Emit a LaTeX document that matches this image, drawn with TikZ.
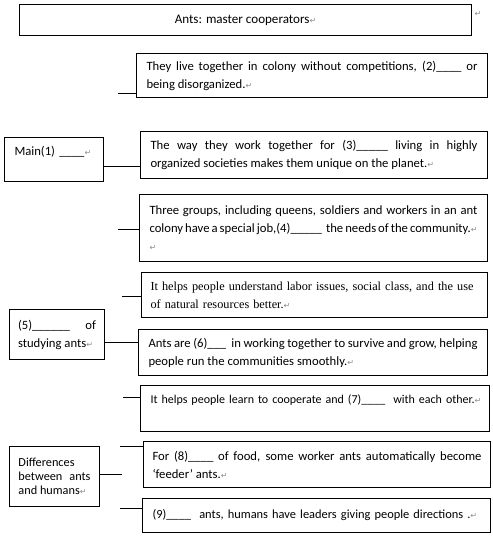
\documentclass[tikz,border=0pt]{standalone}
\usepackage{fontspec}
\setmainfont{Carlito}
\newfontfamily\serifb{Liberation Serif}
\newfontfamily\dejavu{DejaVu Sans}
\hyphenpenalty=10000 \exhyphenpenalty=10000 \tolerance=10000
\newcommand\ret{{\dejavu\fontsize{6}{6}\selectfont\textcolor{black!45}{↵}}}
\newcommand\pxl[1]{#1*0.75pt}
\begin{document}
\begin{tikzpicture}[x=0.75pt,y=-0.75pt,
  box/.style={draw, line width=0.75pt, anchor=north west, inner sep=0pt,
    font=\fontsize{9.5}{13.5}\selectfont, align=justify},
  conn/.style={line width=0.75pt}]
\useasboundingbox (0,0) rectangle (493,536);
% boxes
\node[box, minimum width=\pxl{452}, minimum height=\pxl{31}, align=center, font=\fontsize{9.8}{13.5}\selectfont] (title) at (19,4) {Ants: master cooperators\ret};
\node[anchor=center, inner sep=0pt] (r0) at (478,14) {\ret};
\node[box, minimum width=\pxl{351}, minimum height=\pxl{44}, text width=\pxl{331}] (b2) at (136,53)
  {They live together in colony without competitions, (2)\_\_\_\_ or\linebreak being disorganized.\ret};
\node[box, minimum width=\pxl{99}, minimum height=\pxl{44}, text width=\pxl{79}, align=left] (main) at (4,137)
  {\mbox{Main(1) \_\_\_\_\ret}\\\mbox{}};
\node[box, minimum width=\pxl{347}, minimum height=\pxl{47}, text width=\pxl{327}] (b3) at (140,131)
  {The way they work together for (3)\_\_\_\_\_ living in highly\linebreak organized societies makes them unique on the planet.\ret};
\node[box, minimum width=\pxl{348}, minimum height=\pxl{67}, text width=\pxl{328}] (b4) at (139,194)
  {Three groups, including queens, soldiers and workers in an ant\linebreak colony have a special job,(4)\_\_\_\_\_\ \ the needs of the community.\ret\\\ret};
\node[box, minimum width=\pxl{346}, minimum height=\pxl{45}, text width=\pxl{328}, align=left,
  font=\serifb\fontsize{9.2}{13.5}\selectfont] (b5) at (141,272)
  {It helps people understand labor issues, social class, and the use\\of natural resources better.\ret};
\node[box, minimum width=\pxl{95}, minimum height=\pxl{50}, text width=\pxl{78}] (five) at (9,309)
  {(5)\_\_\_\_\_\_ of\linebreak \mbox{studying ants\ret}};
\node[box, minimum width=\pxl{349}, minimum height=\pxl{46}, text width=\pxl{329}] (b6) at (138,329)
  {Ants are (6)\_\_\_\ \ in working together to survive and grow, helping\linebreak people run the communities smoothly.\ret};
\node[box, minimum width=\pxl{349}, minimum height=\pxl{46}, text width=\pxl{329}, align=left,
  font=\fontsize{9}{13.5}\selectfont] (b7) at (140,385)
  {\mbox{It helps people learn to cooperate and (7)\_\_\_\_\ \ with each other.\ret}\\\mbox{}};
\node[box, minimum width=\pxl{347}, minimum height=\pxl{46}, text width=\pxl{329}] (b8) at (143,441)
  {For (8)\_\_\_\_ of food, some worker ants automatically become\linebreak ‘feeder’ ants.\ret};
\node[box, minimum width=\pxl{90}, minimum height=\pxl{60}, text width=\pxl{72},
  font=\fontsize{9.2}{10.5}\selectfont] (diff) at (9,446)
  {Differences\\between ants\linebreak \mbox{and humans\ret}};
\node[box, minimum width=\pxl{348}, minimum height=\pxl{34}, text width=\pxl{328}, align=left,
  font=\fontsize{9.3}{13.5}\selectfont] (b9) at (142,498)
  {\mbox{(9)\_\_\_\_\ \ ants, humans have leaders giving people directions .\ret}};
% connectors
\coordinate (s2) at (118,93);
\draw[conn] (s2) -- (s2 -| b2.west);
\coordinate (m3) at (120,166);
\draw[conn] (m3 -| main.east) -- (m3 -| b3.west);
\coordinate (s4) at (118,229);
\draw[conn] (s4) -- (s4 -| b4.west);
\coordinate (s5) at (122,296);
\draw[conn] (s5) -- (s5 -| b5.west);
\coordinate (m6) at (120,342);
\draw[conn] (m6 -| five.east) -- (m6 -| b6.west);
\coordinate (s7) at (123,397);
\draw[conn] (s7) -- (s7 -| b7.west);
\coordinate (s8) at (120,446);
\draw[conn] (s8) -- (s8 -| b8.west);
\coordinate (d9) at (122,474);
\draw[conn] (d9 -| diff.east) -- (d9);
\coordinate (s9) at (120,508);
\draw[conn] (s9) -- (s9 -| b9.west);
\end{tikzpicture}
\end{document}
